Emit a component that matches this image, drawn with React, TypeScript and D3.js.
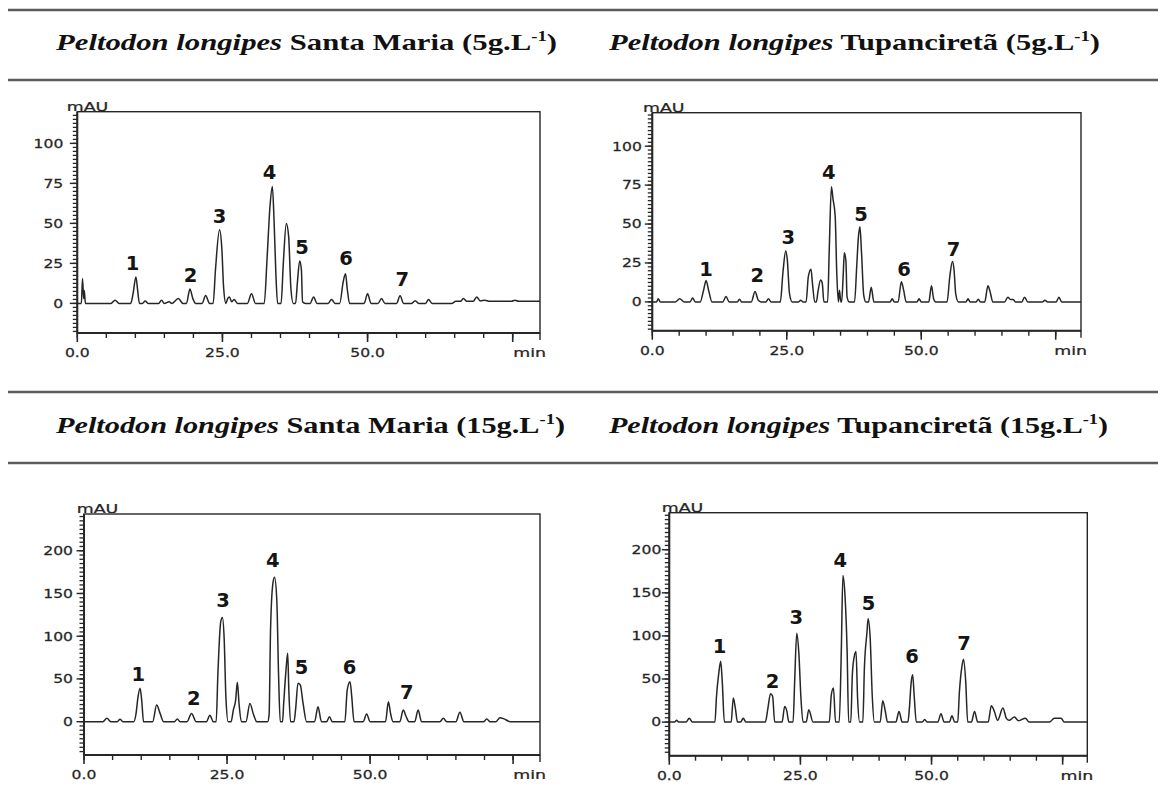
import React from "react";
import * as d3 from "d3";

type Pt = [number, number];

// ---------- DATA ----------
const TITLES = [
  { italic: "Peltodon longipes", rest: " Santa Maria (5g.L", sup: "-1", end: ")" },
  { italic: "Peltodon longipes", rest: " Tupanciretã (5g.L", sup: "-1", end: ")" },
  { italic: "Peltodon longipes", rest: " Santa Maria (15g.L", sup: "-1", end: ")" },
  { italic: "Peltodon longipes", rest: " Tupanciretã (15g.L", sup: "-1", end: ")" },
];

const X_TICK_VALUES = [0, 25, 50];
const X_TICK_LABELS = ["0.0", "25.0", "50.0"];
const Y_TICKS_5 = [0, 25, 50, 75, 100];
const Y_TICKS_15 = [0, 50, 100, 150, 200];
const PEAK_IDS = ["1", "2", "3", "4", "5", "6", "7"];

// retention time (min), absorbance (mAU)
const TRACE_SM5: Pt[] = [
  [0, 0], [0.7, 0], [0.9, 15.5], [1.1, 3], [1.2, 8], [1.4, 0],
  [5.8, 0], [6.5, 2], [7.2, 0],
  [9.2, 0], [9.6, 6], [10.1, 16.5], [10.4, 8], [10.7, 0],
  [11.2, 0], [11.7, 1.5], [12.2, 0],
  [14, 0], [14.5, 2], [15, 0], [15.8, 1], [16.3, 0], [17.4, 3], [18.2, 0],
  [18.8, 0], [19.4, 9], [19.9, 3], [20.4, 0],
  [21.5, 0], [22.1, 5], [22.8, 0],
  [23.4, 0], [23.8, 21], [24.5, 46], [24.9, 34], [25.2, 10], [25.6, 0],
  [25.9, 3], [26.2, 4], [26.6, 1], [27, 2.5], [27.6, 0],
  [29.3, 0], [30, 6], [30.7, 0],
  [32.2, 0], [32.7, 29], [33.2, 61], [33.6, 73], [33.9, 51], [34.2, 19], [34.5, 0],
  [35.1, 0], [35.5, 26], [36, 50], [36.4, 42], [36.8, 9], [37.2, 0],
  [37.6, 0], [37.9, 12.5], [38.3, 26.5], [38.6, 21], [38.8, 1], [39.3, 0],
  [40.1, 0], [40.7, 4], [41.3, 0],
  [43.2, 0], [43.8, 2.5], [44.4, 0],
  [45.2, 0], [45.8, 13.5], [46.2, 18.5], [46.5, 9], [46.9, 0],
  [49.4, 0], [50, 6], [50.6, 0],
  [51.8, 0], [52.4, 3], [53, 0],
  [55, 0], [55.6, 4.8], [56.2, 0],
  [57.6, 0], [58.2, 1.7], [58.8, 0],
  [60, 0], [60.5, 2.5], [61.1, 0],
  [64.5, 0], [65.2, 1.3], [66, 1.3], [66.5, 3], [67.1, 1.3], [68.2, 1.3], [68.8, 4], [69.4, 1.5], [70.2, 2], [71, 1.3],
  [74.8, 1.3], [75.4, 2], [76, 1.3], [79.7, 1.3],
];

const TRACE_TU5: Pt[] = [
  [0, 0], [0.8, 0], [1.1, 2], [1.5, 0],
  [4.3, 0], [5.1, 2], [5.9, 0],
  [7, 0], [7.5, 2.5], [8, 0],
  [8.9, 0], [9.5, 7], [10, 13.7], [10.5, 7], [11.1, 0],
  [13.1, 0], [13.7, 3.4], [14.3, 0],
  [15.8, 0], [16.2, 1.7], [16.6, 0],
  [18.4, 0], [19.1, 6.6], [19.7, 1], [20.2, 0],
  [21.1, 0], [21.6, 2], [22.1, 0],
  [23.8, 0], [24.3, 19.4], [24.8, 32.7], [25.1, 27], [25.5, 5.5], [26, 0],
  [27.2, 0], [27.6, 1], [28, 0],
  [28.6, 0], [29, 16], [29.5, 21], [29.8, 11], [30.2, 0],
  [30.5, 0], [30.8, 6.6], [31.3, 14], [31.6, 12], [31.9, 0],
  [32.6, 0], [32.9, 34], [33.3, 74], [33.6, 66], [34, 55], [34.3, 18], [34.6, 0],
  [34.8, 7.5], [35.05, 0],
  [35.2, 0], [35.5, 18], [35.7, 31.5], [36, 26], [36.2, 3.4], [36.6, 0],
  [37.6, 0], [38, 22.6], [38.3, 40.8], [38.6, 48.3], [38.9, 31.6], [39.3, 4.5], [39.7, 0],
  [40.2, 0], [40.7, 9.4], [41.2, 0],
  [44.2, 0], [44.6, 2], [45, 0],
  [45.7, 0], [46.3, 13], [46.7, 8], [47.2, 0],
  [49.2, 0], [49.6, 2], [50, 0],
  [51.4, 0], [51.9, 10.3], [52.3, 2], [52.7, 0],
  [54.8, 0], [55.3, 16], [55.8, 26], [56.1, 20.5], [56.4, 5.5], [56.9, 0],
  [58.3, 0], [58.7, 2], [59.1, 0],
  [60.2, 0], [60.6, 1.7], [61, 0],
  [61.8, 0], [62.4, 10.3], [62.8, 6.6], [63.3, 0],
  [65.5, 0], [66.1, 3], [66.6, 1.5], [67.1, 1.5], [67.5, 0],
  [68.7, 0], [69.2, 3], [69.8, 0],
  [72.5, 0], [73, 1], [73.5, 0],
  [75.1, 0], [75.6, 3], [76.1, 0], [79.7, 0],
];

const TRACE_SM15: Pt[] = [
  [0, 0], [3.3, 0], [4, 4], [4.7, 0], [5.8, 0], [6.3, 2.7], [6.8, 0],
  [8.7, 0], [9.1, 9.7], [9.4, 27], [9.8, 39], [10.1, 24], [10.4, 0],
  [12, 0], [12.7, 19.5], [13.3, 9.7], [13.9, 0],
  [15.8, 0], [16.3, 3], [16.8, 0],
  [18, 0], [18.8, 9.7], [19.6, 0],
  [21.4, 0], [22, 7.4], [22.6, 0],
  [23.1, 0], [23.4, 55.7], [23.9, 117], [24.2, 122], [24.5, 96.7], [24.8, 29], [25.2, 0],
  [25.7, 0], [26.1, 13.6], [26.5, 25], [26.8, 46], [27.1, 21], [27.5, 0],
  [28.3, 0], [29, 21.4], [29.6, 9], [30.2, 0],
  [32.1, 0], [32.35, 8], [32.6, 106], [33, 161], [33.3, 169], [33.7, 142], [34, 56.5], [34.3, 0],
  [34.7, 0], [34.9, 21], [35.3, 60], [35.6, 80], [35.8, 37], [36.1, 0],
  [36.7, 0], [37, 15.6], [37.4, 45], [37.8, 43], [38.3, 21], [38.9, 0],
  [40.3, 0], [40.9, 17.5], [41.5, 0],
  [42.4, 0], [42.9, 5.8], [43.4, 0],
  [45.6, 0], [46, 37], [46.5, 46.8], [46.8, 29], [47.2, 0],
  [48.8, 0], [49.4, 9], [50, 0],
  [52.7, 0], [53.2, 23.4], [53.6, 9], [54, 0],
  [55.2, 0], [55.8, 13.6], [56.3, 6], [56.8, 0],
  [57.8, 0], [58.4, 13.6], [59, 0],
  [62.2, 0], [62.8, 4], [63.4, 0],
  [65, 0], [65.7, 11], [66.4, 0],
  [69.8, 0], [70.4, 3], [71, 0], [72, 0], [72.7, 4.7], [73.5, 3], [74.5, 0], [79.7, 0],
];

const TRACE_TU15: Pt[] = [
  [0, 0], [1, 0], [1.4, 2], [1.8, 0], [3.2, 0], [3.8, 4.6], [4.4, 0],
  [8.7, 0], [9, 30], [9.4, 55], [9.8, 70.5], [10.1, 47], [10.5, 0],
  [11.8, 0], [12.2, 28], [12.6, 16], [13, 0],
  [13.6, 0], [14.1, 4.6], [14.6, 0],
  [18.3, 0], [18.8, 16], [19.3, 33], [19.7, 30], [20.1, 0],
  [21.5, 0], [22, 18], [22.4, 13], [22.8, 0],
  [23.6, 0], [23.9, 46.5], [24.3, 103], [24.7, 80], [25.1, 28], [25.5, 0],
  [26.1, 0], [26.6, 14.3], [27.4, 0],
  [30.5, 0], [30.9, 32], [31.3, 39.5], [31.7, 0],
  [32.4, 0], [32.8, 84], [33.1, 170], [33.5, 147], [33.9, 84], [34.2, 0],
  [34.6, 0], [34.9, 55], [35.2, 74], [35.6, 82], [35.9, 28], [36.3, 0],
  [36.9, 0], [37.2, 62.8], [37.7, 105], [37.9, 120], [38.3, 97.7], [38.7, 30], [39.1, 0],
  [40.2, 0], [40.7, 24.8], [41.2, 12], [41.6, 0],
  [43.2, 0], [43.8, 12.4], [44.4, 0],
  [45.5, 0], [45.8, 18], [46.1, 45], [46.4, 55], [46.7, 30], [47.1, 0],
  [48.2, 0], [48.7, 3], [49.2, 0],
  [51.2, 0], [51.8, 9.7], [52.4, 0],
  [53.4, 0], [53.9, 7.4], [54.4, 0],
  [55, 0], [55.3, 33.7], [55.8, 64.7], [56.1, 73], [56.5, 49], [56.9, 0],
  [57.6, 0], [58.2, 12.4], [58.8, 0],
  [60.8, 0], [61.4, 19], [62, 12], [62.6, 2], [63.6, 16.3], [64.3, 4], [64.8, 2],
  [65.8, 5.8], [66.6, 1.5], [67.9, 4.6], [68.6, 0],
  [72.5, 0], [73.4, 4.6], [74.7, 4.6], [75.3, 0], [79.7, 0],
];

// peak label anchors: [retention time, mAU of label baseline]
const LABELS_SM5: Pt[] = [[9.5, 20.6], [19.5, 13.3], [24.5, 50.2], [33.1, 78], [38.7, 31], [46.3, 23.8], [56, 10.6]];
const LABELS_TU5: Pt[] = [[10, 16.5], [19.5, 12.8], [25.3, 37.4], [32.8, 79], [38.8, 52], [46.8, 16.5], [56, 29.7]];
const LABELS_SM15: Pt[] = [[9.5, 48], [19.2, 20], [24.3, 134.5], [33, 180.5], [38, 55.7], [46.4, 55.7], [56.4, 26.5]];
const LABELS_TU15: Pt[] = [[9.6, 80], [19.7, 40], [24.2, 114], [32.6, 180], [38, 130], [46.3, 68], [56.2, 84]];

const X_DOMAIN: Pt = [0, 79.7];
const Y_DOMAIN_SM5: Pt = [-18.5, 119.8];
const Y_DOMAIN_TU5: Pt = [-18.5, 121.5];
const Y_DOMAIN_SM15: Pt = [-39, 243];
const Y_DOMAIN_TU15: Pt = [-39, 243];

// ---------- LAYOUT ----------
const W = 1158;
const H = 793;
const INK = "#262626";
const SANS = "'DejaVu Sans', Verdana, sans-serif";

const PANELS = [
  { trace: TRACE_SM5, labels: LABELS_SM5, yDomain: Y_DOMAIN_SM5, yTicks: Y_TICKS_5, minorStep: 2.5, left: 77.3, top: 111.7, right: 540, bottom: 333, labelGap: 14, mauDx: -10.6 },
  { trace: TRACE_TU5, labels: LABELS_TU5, yDomain: Y_DOMAIN_TU5, yTicks: Y_TICKS_5, minorStep: 2.5, left: 652.3, top: 112.7, right: 1081, bottom: 330.7, labelGap: 10.5, mauDx: -9.3 },
  { trace: TRACE_SM15, labels: LABELS_SM15, yDomain: Y_DOMAIN_SM15, yTicks: Y_TICKS_15, minorStep: 5, left: 84, top: 514, right: 540, bottom: 755, labelGap: 11, mauDx: -7.3 },
  { trace: TRACE_TU15, labels: LABELS_TU15, yDomain: Y_DOMAIN_TU15, yTicks: Y_TICKS_15, minorStep: 5, left: 669.3, top: 512.7, right: 1087.3, bottom: 755.7, labelGap: 8, mauDx: -7.6 },
];

const TITLE_POS = [
  { x: 56, y: 50, w: 501 },
  { x: 609, y: 50, w: 491 },
  { x: 56, y: 433, w: 509 },
  { x: 609, y: 433, w: 499 },
];
const RULES_Y = [10, 80, 392, 463];

const SX = 1.3; // horizontal stretch of the small sans labels

function Panel({ p }: { p: (typeof PANELS)[number] }) {
  const x = d3.scaleLinear().domain(X_DOMAIN).range([p.left, p.right]);
  const y = d3.scaleLinear().domain(p.yDomain).range([p.bottom, p.top]);
  const line = d3
    .line<Pt>()
    .x((d) => x(d[0]))
    .y((d) => y(d[1]))
    .curve(d3.curveMonotoneX);

  const minorY = d3.range(
    Math.ceil(p.yDomain[0] / p.minorStep) * p.minorStep,
    p.yDomain[1],
    p.minorStep
  );
  const minorX = d3.range(0, 80, 5);
  const majorX = [0, 25, 50, 75];
  const smallText = { fontFamily: SANS, fontSize: 12, fill: INK, stroke: INK, strokeWidth: 0.25 };

  return (
    <g>
      {/* frame */}
      <rect x={p.left} y={p.top} width={p.right - p.left} height={p.bottom - p.top} fill="none" stroke={INK} strokeWidth={1.4} />
      <line x1={p.left} x2={p.left} y1={p.top} y2={p.bottom} stroke={INK} strokeWidth={2} />
      <line x1={p.left} x2={p.right} y1={p.bottom} y2={p.bottom} stroke={INK} strokeWidth={2} />
      {/* y ticks */}
      {minorY.map((v, i) => (
        <line key={"ym" + i} x1={p.left - 4.5} x2={p.left} y1={y(v)} y2={y(v)} stroke={INK} strokeWidth={1.3} />
      ))}
      {p.yTicks.map((v) => (
        <g key={"yt" + v}>
          <line x1={p.left - 7.5} x2={p.left} y1={y(v)} y2={y(v)} stroke={INK} strokeWidth={1.4} />
          <text
            transform={`translate(${p.left - p.labelGap},${y(v)}) scale(${SX},1)`}
            dy="0.36em"
            textAnchor="end"
            {...smallText}
          >
            {v}
          </text>
        </g>
      ))}
      {/* x ticks */}
      {minorX.map((v) => (
        <line key={"xm" + v} x1={x(v)} x2={x(v)} y1={p.bottom} y2={p.bottom + 5} stroke={INK} strokeWidth={1.4} />
      ))}
      {majorX.map((v) => (
        <line key={"xM" + v} x1={x(v)} x2={x(v)} y1={p.bottom} y2={p.bottom + 9} stroke={INK} strokeWidth={1.6} />
      ))}
      <line x1={p.right} x2={p.right} y1={p.bottom} y2={p.bottom + 7} stroke={INK} strokeWidth={1.4} />
      {X_TICK_VALUES.map((v, i) => (
        <text
          key={"xl" + v}
          transform={`translate(${x(v)},${p.bottom + 24}) scale(${SX},1)`}
          textAnchor="middle"
          {...smallText}
        >
          {X_TICK_LABELS[i]}
        </text>
      ))}
      <text
        transform={`translate(${p.right + 6},${p.bottom + 24}) scale(${SX + 0.15},1)`}
        textAnchor="end"
        {...smallText}
      >
        min
      </text>
      <text
        transform={`translate(${p.left + p.mauDx},${p.top - 1}) scale(${SX + 0.15},1)`}
        textAnchor="start"
        {...smallText}
      >
        mAU
      </text>
      {/* trace */}
      <path d={line(p.trace) || ""} fill="none" stroke={INK} strokeWidth={1.5} strokeLinejoin="round" />
      {/* peak labels */}
      {p.labels.map((d, i) => (
        <text
          key={"pl" + i}
          x={x(d[0])}
          y={y(d[1])}
          textAnchor="middle"
          fontFamily={SANS}
          fontWeight="bold"
          fontSize={19.5}
          fill="#151515"
        >
          {PEAK_IDS[i]}
        </text>
      ))}
    </g>
  );
}

export default function App() {
  return (
    <div style={{ position: "absolute", left: 0, top: 0 }}>
      <svg width={W} height={H} viewBox={`0 0 ${W} ${H}`} style={{ display: "block", background: "#fff" }}>
        <rect width={W} height={H} fill="#fff" />
        {RULES_Y.map((ry) => (
          <line key={ry} x1={8} x2={W} y1={ry} y2={ry} stroke="#5c5c5c" strokeWidth={2.4} />
        ))}
        {TITLES.map((t, i) => (
          <text
            key={i}
            x={TITLE_POS[i].x}
            y={TITLE_POS[i].y}
            textLength={TITLE_POS[i].w}
            lengthAdjust="spacingAndGlyphs"
            fontFamily="'Liberation Serif', 'Times New Roman', serif"
            fontWeight="bold"
            fontSize={23}
            fill="#111"
          >
            <tspan fontStyle="italic">{t.italic}</tspan>
            <tspan>{t.rest}</tspan>
            <tspan fontSize={14} dy={-9}>{t.sup}</tspan>
            <tspan dy={9}>{t.end}</tspan>
          </text>
        ))}
        {PANELS.map((p, i) => (
          <Panel key={i} p={p} />
        ))}
      </svg>
    </div>
  );
}
